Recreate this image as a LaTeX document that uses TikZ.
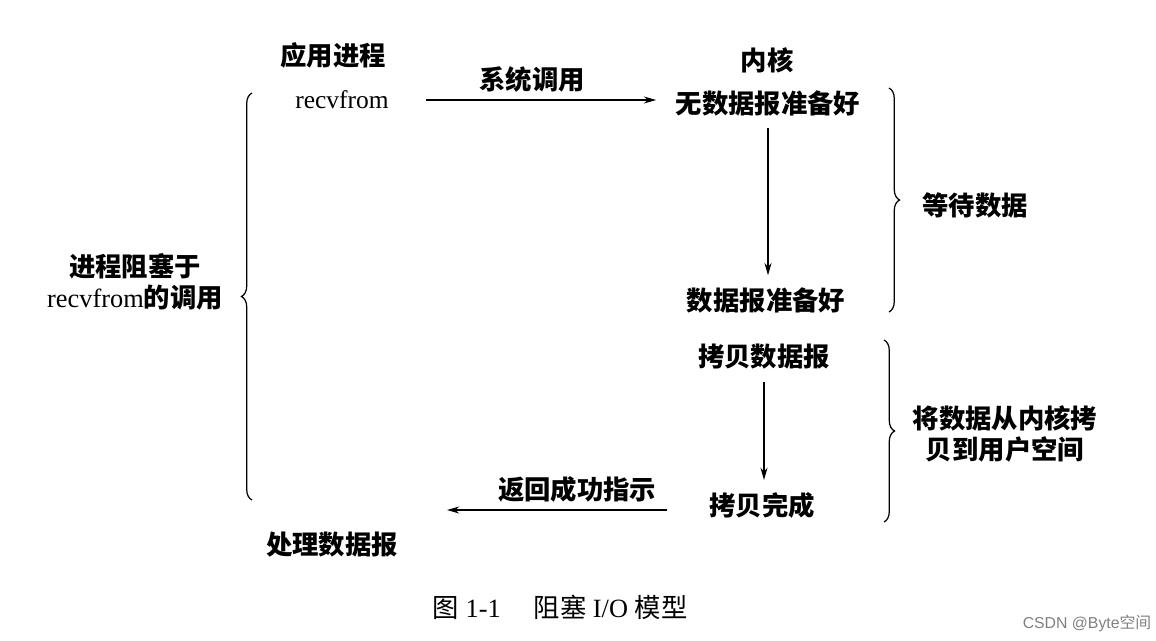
\documentclass[tikz,border=0pt]{standalone}
\usepackage{fontspec}
\setmainfont{Liberation Serif}
\newfontfamily\cjk{Noto Sans CJK SC}
\newfontfamily\wmark{Liberation Sans}
\usetikzlibrary{arrows.meta,decorations.pathreplacing}

\begin{document}
\begin{tikzpicture}
[x=0.02cm,y=-0.02cm,
lbl/.style={font=\cjk\bfseries\fontsize{15}{18}\selectfont,inner sep=1pt},
call/.style={-{Stealth[length=7pt,width=4pt]},line width=0.7pt},
grp/.style={decorate,decoration={brace,amplitude=6pt},line width=0.7pt}]
\useasboundingbox (0,0) rectangle (1156,640);
\node[lbl] (app) at (333,55) {应用进程};
\node[lbl] (kern) at (767,60) {内核};
\node[lbl,font=\rmfamily\fontsize{14.5}{17}\selectfont] (recv) at (342,100) {recvfrom};
\node[lbl] (nodata) at (768,103) {无数据报准备好};
\node[lbl] (ready) at (766,300) {数据报准备好};
\node[lbl] (copy) at (764,357) {拷贝数据报};
\node[lbl] (done) at (762,505) {拷贝完成};
\node[lbl] (handle) at (332,545) {处理数据报};
\node[lbl,align=center] (block) at (135,282) {进程阻塞于\\{\rmfamily\mdseries recvfrom}的调用};
\node[lbl] (wait) at (975,205) {等待数据};
\node[lbl,align=center] (move) at (1005,434) {将数据从内核拷\\贝到用户空间};
\coordinate (retend) at (447,510);
\draw[call,shorten <=0.7cm,shorten >=0.35cm] (recv.east) -- node[lbl,above=3pt] {系统调用} (recv.east -| nodata.west);
\draw[call,shorten <=0.2cm,shorten >=0.2cm] (nodata.south) -- (nodata.south |- ready.north);
\draw[call,shorten <=0.2cm,shorten >=0.2cm] (copy.south) -- (copy.south |- done.north);
\draw[call,shorten <=0.8cm] (done.west |- retend) -- node[lbl,above=3pt] {返回成功指示} (retend);
\draw[grp] (889,88) -- (889,312);
\draw[grp] (884,340) -- (884,522);
\draw[grp] (252,500) -- (252,93);
\node[font=\fontsize{15}{18}\selectfont] (cap) at (560,607) {{\cjk 图}\ 1-1\quad\ {\cjk 阻塞}\ I/O\ {\cjk 模型}};
\node[font=\wmark\fontsize{9}{11}\selectfont,text=gray] (mark) at (1087,623) {CSDN @Byte{\cjk 空间}};
\end{tikzpicture}
\end{document}
